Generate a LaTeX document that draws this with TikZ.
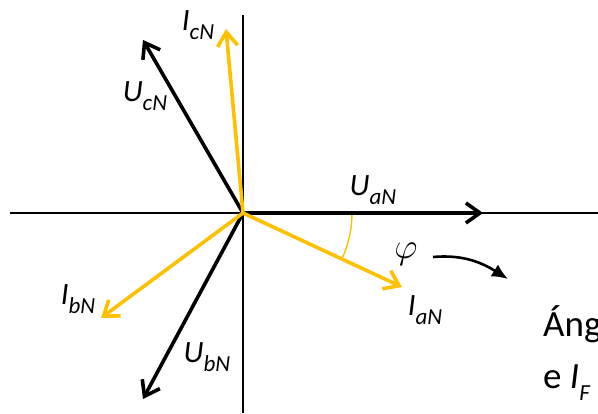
\RequirePackage{fix-cm}
\documentclass[tikz,border=0pt]{standalone}
\usepackage{fontspec}
\setmainfont{Carlito}
\usepackage{xcolor}
\usepackage{tikz}
\usetikzlibrary{arrows.meta}

\definecolor{gold}{HTML}{FFC000}
\newcommand{\phname}[2]{\itshape #1\raisebox{-0.3em}{\fontsize{23}{23}\selectfont #2}}

\begin{document}
\begin{tikzpicture}[x=1pt, y=1pt,
    every node/.style={font=\fontsize{31}{31}\selectfont},
    note/.style={anchor=base west, inner sep=0pt, font=\fontsize{37}{37}\selectfont},
    voltage/.style={line width=3.6pt, -{Straight Barb[length=14pt, width=20pt, line width=3.6pt]}},
    current/.style={line width=3.6pt, gold, -{Straight Barb[length=14pt, width=20pt, line width=3.6pt]}}]
      \clip (0, 0) rectangle (598, 413);

      % Axes
      \coordinate (O) at (243, 200);
      \coordinate (xl) at (10, 200);
      \coordinate (xr) at (598, 200);
      \coordinate (yt) at (243, 398);
      \coordinate (yb) at (243, 0);
      \draw[line width=1.8pt] (xl) -- (xr);
      \draw[line width=1.8pt] (yb) -- (yt);

      % Tips
      \coordinate (UaN) at (483, 200);
      \coordinate (UbN) at (143, 14);
      \coordinate (UcN) at (143, 373);
      \coordinate (IaN) at (402, 126);
      \coordinate (IbN) at (101, 95);
      \coordinate (IcN) at (226, 384);

      % Phase angle
      \draw[gold, line width=1.4pt] (352, 200) arc[start angle=0, end angle=-24, radius=109];

      % Phasors
      \foreach \tip in {UaN, UbN, UcN} {
        \draw[voltage] (O) -- (\tip);
      }
      \foreach \tip in {IaN, IbN, IcN} {
        \draw[current] (O) -- (\tip);
      }

      % Labels
      \node (lUaN) at (373, 223) {\phname{U}{aN}};
      \node (lUbN) at (207, 56) {\phname{U}{bN}};
      \node (lUcN) at (145, 317) {\phname{U}{cN}};
      \node (lIaN) at (425, 103) {\phname{I}{aN}};
      \node (lIbN) at (78, 114) {\phname{I}{bN}};
      \node (lIcN) at (198, 388) {\phname{I}{cN}};
      \node (phi) at (406, 159) {\fontsize{36}{36}\selectfont$\varphi$};

      % Note
      \node[note] (ang) at (543, 76) {Áng};
      \node[note] (eif) at (543, 24) {e \phname{I}{F}};
      \coordinate (note) at (508, 134);
      \draw[line width=2.6pt, -{Latex[length=16pt, width=14pt]}] (433, 156) to[out=5, in=148] (note);
    \end{tikzpicture}
\end{document}
